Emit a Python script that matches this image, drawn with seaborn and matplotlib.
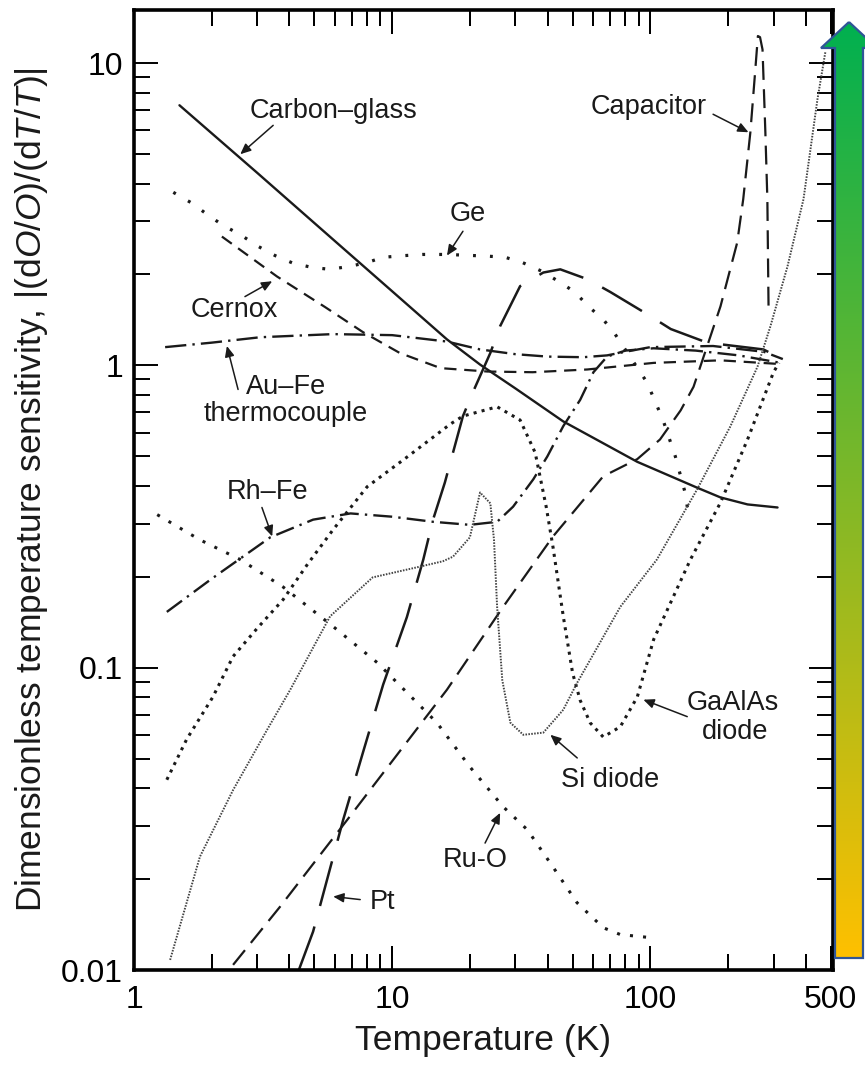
import numpy as np
import pandas as pd
import matplotlib
matplotlib.use("Agg")
import matplotlib.pyplot as plt
import seaborn as sns
from matplotlib.patches import Polygon
from matplotlib.path import Path
from matplotlib.ticker import FixedLocator, FixedFormatter, LogLocator, NullFormatter

# ---- sensor sensitivity curves: temperature (K) vs |(dO/O)/(dT/T)| ----
carbon_T = [1.5, 3, 6, 10, 16.3, 21.9, 30, 46, 89, 152, 187, 238, 311]
carbon_S = [7.26, 4.34, 2.58, 1.76, 1.22, 1.007, 0.84, 0.653, 0.48, 0.394, 0.366, 0.347, 0.339]

ge_T = [1.42, 1.68, 1.92, 2.21, 2.58, 3.02, 3.52, 4.13, 4.9, 5.75, 6.87, 8.0, 9.2, 11.2, 13.1,
        16.3, 23.4, 27.4, 32, 38, 44, 51, 57.5, 65.7, 73, 97, 112, 125, 137, 140]
ge_S = [3.74, 3.44, 3.16, 2.91, 2.71, 2.48, 2.31, 2.18, 2.11, 2.08, 2.13, 2.19, 2.28, 2.31, 2.33,
        2.33, 2.30, 2.28, 2.19, 2.05, 1.90, 1.75, 1.57, 1.42, 1.27, 0.88, 0.66, 0.50, 0.374, 0.326]

cernox_T = [2.19, 3.58, 5.5, 7.7, 10.7, 15.4, 23.4, 35, 57, 103, 187, 325]
cernox_S = [2.67, 1.97, 1.56, 1.29, 1.10, 0.98, 0.955, 0.95, 0.97, 1.02, 1.04, 1.01]

aufe_T = [1.32, 2.0, 3.08, 5.9, 10, 16.3, 21.9, 30, 40, 55, 68, 80, 100, 175, 275, 326]
aufe_S = [1.15, 1.19, 1.24, 1.27, 1.26, 1.20, 1.13, 1.09, 1.07, 1.065, 1.08, 1.11, 1.15, 1.16, 1.11, 1.05]

rhfe_T = [1.34, 2.0, 3.37, 4.94, 6.9, 10, 14.4, 20, 25.5, 29.4, 35.2, 39.9, 46, 53.5, 60.2, 68,
          80, 103, 150, 220, 320]
rhfe_S = [0.153, 0.197, 0.27, 0.309, 0.324, 0.316, 0.304, 0.297, 0.304, 0.341, 0.42, 0.50, 0.63,
          0.77, 0.95, 1.07, 1.12, 1.14, 1.12, 1.08, 1.02]

pt_T = [4.35, 4.94, 6.46, 7.72, 9.23, 11.4, 13.2, 14.4, 16.0, 18.8, 20.6, 24, 26.2, 31.3, 38.5,
        44.8, 57, 70, 97, 120, 166, 274, 326]
pt_S = [0.0100, 0.0134, 0.0314, 0.0527, 0.088, 0.147, 0.228, 0.309, 0.41, 0.68, 0.82, 1.10, 1.35,
        1.83, 2.03, 2.08, 1.93, 1.75, 1.48, 1.32, 1.19, 1.13, 1.05]

cap_T = [2.42, 3.68, 6.7, 16.3, 26.9, 42, 65.7, 89, 109, 131, 147, 171, 187, 217, 229, 244, 255,
         261, 266, 272, 279, 284, 287]
cap_S = [0.0104, 0.0162, 0.0314, 0.0846, 0.159, 0.272, 0.43, 0.49, 0.569, 0.71, 0.85, 1.25, 1.57,
         2.55, 3.55, 5.9, 9.5, 12.3, 12.2, 11.1, 5.9, 3.55, 1.57]

gaalas_T = [1.34, 1.60, 2.02, 2.42, 3.0, 3.78, 4.7, 5.9, 8.0, 11.5, 16.8, 18.8, 25.5, 31.3, 35.8,
            39.5, 42, 46, 50, 53.5, 58.5, 65.7, 76.5, 89, 103, 143, 187, 238, 300, 315]
gaalas_S = [0.0426, 0.058, 0.080, 0.109, 0.135, 0.168, 0.22, 0.286, 0.397, 0.50, 0.64, 0.68, 0.73,
            0.66, 0.515, 0.341, 0.25, 0.148, 0.096, 0.078, 0.0657, 0.059, 0.0638, 0.080, 0.124,
            0.228, 0.352, 0.569, 0.95, 1.02]

si_T = [1.38, 1.80, 2.42, 3.28, 4.03, 5.75, 8.4, 12.8, 15.7, 17.2, 20, 21.9, 24, 24.8, 25.5, 26.7,
        28.7, 32.2, 38.5, 46, 52, 76.5, 106, 152, 204, 260, 292, 340, 392, 444, 477]
si_S = [0.0108, 0.0237, 0.0394, 0.0624, 0.0846, 0.148, 0.199, 0.216, 0.225, 0.233, 0.27, 0.38,
        0.35, 0.265, 0.159, 0.091, 0.0658, 0.060, 0.061, 0.0726, 0.089, 0.159, 0.228, 0.39, 0.628,
        0.99, 1.35, 2.13, 3.55, 7.6, 10.96]

ruo_T = [1.23, 1.80, 2.58, 3.78, 5.9, 8.75, 14.9, 20, 26.9, 33.4, 42, 52, 65.7, 76.5, 100]
ruo_S = [0.321, 0.265, 0.228, 0.185, 0.137, 0.104, 0.0658, 0.047, 0.0347, 0.0291, 0.0219, 0.0167,
         0.0138, 0.0131, 0.0128]

# axis ticks
x_ticks = [1, 10, 100, 500]
x_tick_labels = ["1", "10", "100", "500"]
x_minor_ticks = [2, 3, 4, 5, 6, 7, 8, 9, 20, 30, 40, 50, 60, 70, 80, 90, 200, 300, 400]
y_ticks = [0.01, 0.1, 1, 10]
y_tick_labels = ["0.01", "0.1", "1", "10"]

# curve labels: text, text position (T, S), arrow tail (T, S), arrow tip (T, S)
label_text = ["Carbon\u2013glass", "Capacitor", "Ge", "Cernox", "Au\u2013Fe", "thermocouple",
              "Rh\u2013Fe", "GaAlAs", "diode", "Si diode", "Ru-O", "Pt"]
label_pos = [(5.91, 6.93), (98.2, 7.14), (19.7, 3.16), (2.44, 1.53), (3.88, 0.851), (3.88, 0.689),
             (3.28, 0.380), (208, 0.0766), (213, 0.0614), (70, 0.0426), (21, 0.0231), (9.15, 0.0168)]
arrow_tail = [(3.46, 6.23), (175, 6.78), (18.8, 2.78), (2.69, 1.69), (2.53, 0.833), (3.13, 0.339),
              (139, 0.0689), (52.1, 0.0503), (22.9, 0.0263), (7.52, 0.0171)]
arrow_tip = [(2.58, 5.0), (240, 5.91), (16.3, 2.31), (3.43, 1.90), (2.29, 1.16), (3.43, 0.272),
             (94, 0.0784), (41, 0.060), (26.2, 0.0331), (5.91, 0.0175)]

sns.set_theme(style="ticks")
plt.rcParams["font.family"] = ["Liberation Sans", "DejaVu Sans"]
plt.rcParams["mathtext.fontset"] = "custom"
plt.rcParams["mathtext.rm"] = "Liberation Sans"
plt.rcParams["mathtext.it"] = "Liberation Sans:italic"
plt.rcParams["mathtext.sf"] = "Liberation Sans"

W, H = 865, 1072
fig = plt.figure(figsize=(W / 100, H / 100), dpi=100)
fig.patch.set_facecolor("white")
ax = fig.add_axes([134 / W, 1 - 970 / H, (833 - 134) / W, (970 - 10) / H])
ax.set_facecolor("white")
ax.set_xscale("log")
ax.set_yscale("log")

ink = "#1a1a1a"
curves = [
    (carbon_T, carbon_S, dict(color=ink, lw=1.7, linestyle="-")),
    (ge_T, ge_S, dict(color=ink, lw=2.3, linestyle=(0, (0.9, 4.4)))),
    (cernox_T, cernox_S, dict(color=ink, lw=1.6, linestyle=(0, (5.5, 3.5)))),
    (aufe_T, aufe_S, dict(color=ink, lw=1.7, linestyle=(0, (9, 2.6, 1, 2.6)))),
    (rhfe_T, rhfe_S, dict(color=ink, lw=1.7, linestyle=(0, (8, 2.6, 1, 2.6)))),
    (pt_T, pt_S, dict(color=ink, lw=1.8, linestyle=(0, (18.5, 8.5)))),
    (cap_T, cap_S, dict(color=ink, lw=1.6, linestyle=(0, (8.5, 4.2)))),
    (gaalas_T, gaalas_S, dict(color=ink, lw=2.2, linestyle=(0, (1, 1.7)))),
    (si_T, si_S, dict(color="#444444", lw=1.4, linestyle=(0, (0.8, 0.7)))),
    (ruo_T, ruo_S, dict(color=ink, lw=2.2, linestyle=(0, (1, 3.3)))),
]
for T, S, kw in curves:
    df = pd.DataFrame({"T": T, "S": S})
    sns.lineplot(data=df, x="T", y="S", ax=ax, sort=False, estimator=None, **kw)

ax.set_xlim(1, 510)
ax.set_ylim(0.01, 15)
for sp in ax.spines.values():
    sp.set_linewidth(2.6)
    sp.set_color("black")

ax.set_xlabel("Temperature (K)", fontsize=25.5, labelpad=6, color=ink)
ax.set_ylabel("Dimensionless temperature sensitivity, |(d$O$/$O$)/(d$T$/$T$)|",
              fontsize=25.5, labelpad=8, color=ink)

for txt, (tx, ty) in zip(label_text, label_pos):
    ax.text(tx, ty, txt, ha="center", va="center", fontsize=19.5, color=ink)
for tail, tip in zip(arrow_tail, arrow_tip):
    ax.annotate("", xy=tip, xytext=tail,
                arrowprops=dict(arrowstyle="-|>,head_length=0.45,head_width=0.2",
                                lw=1.1, color=ink, shrinkA=0, shrinkB=0, mutation_scale=14))

# tick locators / labels; ticks point inward on all four sides
ax.xaxis.set_major_locator(FixedLocator(x_ticks))
ax.xaxis.set_major_formatter(FixedFormatter(x_tick_labels))
ax.xaxis.set_minor_locator(FixedLocator(x_minor_ticks))
ax.xaxis.set_minor_formatter(NullFormatter())
ax.yaxis.set_major_locator(FixedLocator(y_ticks))
ax.yaxis.set_major_formatter(FixedFormatter(y_tick_labels))
ax.yaxis.set_minor_locator(LogLocator(base=10, subs=np.arange(2, 10)))
ax.yaxis.set_minor_formatter(NullFormatter())
ax.xaxis.set_ticks_position("both")
ax.yaxis.set_ticks_position("both")
ax.tick_params(which="both", direction="in", top=True, right=True, bottom=True, left=True,
               labeltop=False, labelright=False, colors="black")
ax.tick_params(which="major", length=17, width=1.4, labelsize=23)
ax.tick_params(which="minor", length=11.5, width=1.4)
ax.tick_params(axis="x", which="major", pad=11)
ax.tick_params(axis="y", which="major", pad=8)

# temperature tick marks along the top and bottom edges, drawn as segments
# in (data-x, axes-y) coordinates so they sit on the frame
plot_h_pt = (970 - 10) * 72 / 100
major_len = 17 / plot_h_pt
minor_len = 11.5 / plot_h_pt
xt = ax.get_xaxis_transform()
major_in_view = [v for v in x_ticks if v < 505]
for y0, y1, ticks in ((0, major_len, major_in_view), (0, minor_len, x_minor_ticks),
                      (1 - major_len, 1, major_in_view), (1 - minor_len, 1, x_minor_ticks)):
    ax.vlines(ticks, y0, y1, transform=xt, colors="black", lw=1.4, clip_on=False, zorder=4)
ax.set_xlim(1, 510)

# gradient arrow along the right edge (pixel geometry, origin top-left)
arrow_px = [(849, 22), (877, 48), (863, 48), (863, 958), (835, 958), (835, 48), (821, 48)]
gx0, gx1, gy0, gy1 = 821, 877, 22, 958
gw, gh = gx1 - gx0, gy1 - gy0
yy, xx = np.mgrid[0:gh, 0:gw]
inside = Path(arrow_px).contains_points(
    np.column_stack([(xx + gx0 + 0.5).ravel(), (yy + gy0 + 0.5).ravel()])).reshape(gh, gw)
top_rgb = np.array([0, 176, 80]) / 255
bottom_rgb = np.array([255, 192, 0]) / 255
frac = ((yy + 0.5) / gh)[..., None]
rgba = np.zeros((gh, gw, 4))
rgba[..., :3] = top_rgb + (bottom_rgb - top_rgb) * frac
rgba[..., 3] = inside.astype(float)
fig.figimage(rgba, xo=gx0, yo=H - gy1, origin="upper", zorder=5)
outline = Polygon([(x / W, 1 - y / H) for x, y in arrow_px], closed=True, fill=False,
                  edgecolor="#2F5597", lw=1.6, joinstyle="miter", transform=fig.transFigure,
                  zorder=6)
fig.add_artist(outline)

fig.savefig("out.png", dpi=100, facecolor="white")
